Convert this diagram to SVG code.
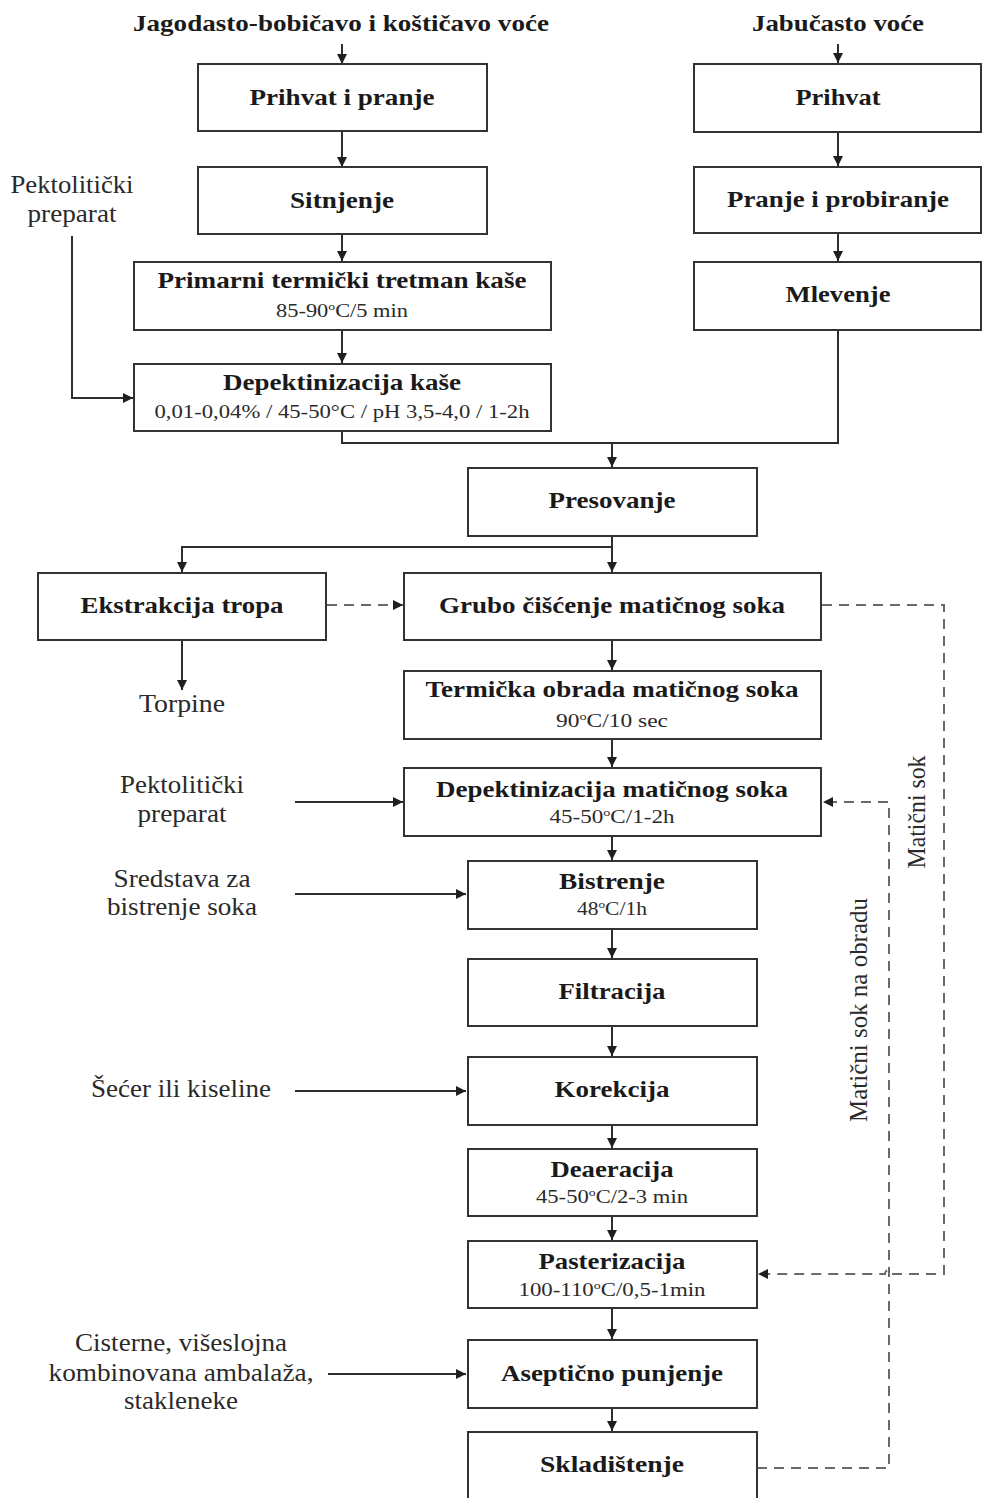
<svg xmlns="http://www.w3.org/2000/svg" width="982" height="1498" viewBox="0 0 982 1498">
  <style>
    .box { fill: #ffffff; stroke: #333333; stroke-width: 2; }
    .t { font-family: "Liberation Serif", "Times New Roman", serif; font-weight: bold; font-size: 24px; fill: #1a1a1a; text-anchor: middle; }
    .s { font-family: "Liberation Serif", "Times New Roman", serif; font-size: 18px; fill: #2a2a2a; text-anchor: middle; }
    .lbl { font-family: "Liberation Serif", "Times New Roman", serif; font-size: 25px; fill: #2a2a2a; text-anchor: middle; }
    .ln { fill: none; stroke: #2e2e2e; stroke-width: 2; }
    .dash { fill: none; stroke: #6a6a6a; stroke-width: 2; stroke-dasharray: 10 7; }
  </style>
  <defs>
    <marker id="arr" viewBox="0 0 10 10" refX="10" refY="5" markerWidth="11" markerHeight="10" markerUnits="userSpaceOnUse" orient="auto">
      <path d="M0,0 L10,5 L0,10 z" fill="#1f1f1f"/>
    </marker>
  </defs>
  <rect width="982" height="1498" fill="#ffffff"/>

  <!-- source headings -->
  <text class="t" x="341" y="31" textLength="416" lengthAdjust="spacingAndGlyphs">Jagodasto-bobičavo i koštičavo voće</text>
  <text class="t" x="838" y="31" textLength="172" lengthAdjust="spacingAndGlyphs">Jabučasto voće</text>

  <!-- connectors -->
  <g id="connectors">
    <path class="ln" d="M342,44 V64" marker-end="url(#arr)"/>
    <path class="ln" d="M342,131 V167" marker-end="url(#arr)"/>
    <path class="ln" d="M342,234 V261" marker-end="url(#arr)"/>
    <path class="ln" d="M342,330 V363" marker-end="url(#arr)"/>
    <path class="ln" d="M72,236 V398 H133" marker-end="url(#arr)"/>
    <path class="ln" d="M838,44 V63" marker-end="url(#arr)"/>
    <path class="ln" d="M838,132 V166" marker-end="url(#arr)"/>
    <path class="ln" d="M838,233 V261" marker-end="url(#arr)"/>
    <path class="ln" d="M342,431 V443 H838 V330"/>
    <path class="ln" d="M612,443 V467" marker-end="url(#arr)"/>
    <path class="ln" d="M612,536 V572" marker-end="url(#arr)"/>
    <path class="ln" d="M612,547 H182 V572" marker-end="url(#arr)"/>
    <path class="ln" d="M182,640 V690" marker-end="url(#arr)"/>
    <path class="ln" d="M612,640 V670" marker-end="url(#arr)"/>
    <path class="ln" d="M612,739 V767" marker-end="url(#arr)"/>
    <path class="ln" d="M295,802 H403" marker-end="url(#arr)"/>
    <path class="ln" d="M612,836 V860" marker-end="url(#arr)"/>
    <path class="ln" d="M295,894 H466" marker-end="url(#arr)"/>
    <path class="ln" d="M612,929 V958" marker-end="url(#arr)"/>
    <path class="ln" d="M612,1026 V1056" marker-end="url(#arr)"/>
    <path class="ln" d="M295,1091 H466" marker-end="url(#arr)"/>
    <path class="ln" d="M612,1125 V1148" marker-end="url(#arr)"/>
    <path class="ln" d="M612,1216 V1240" marker-end="url(#arr)"/>
    <path class="ln" d="M612,1308 V1339" marker-end="url(#arr)"/>
    <path class="ln" d="M328,1374 H466" marker-end="url(#arr)"/>
    <path class="ln" d="M612,1408 V1431" marker-end="url(#arr)"/>
    <!-- dashed recirculation lines -->
    <path class="dash" d="M327,605 H403" marker-end="url(#arr)"/>
    <path class="dash" d="M822,605 H944 V1274 H893 A4,4 0 0 0 885,1274 H758" marker-end="url(#arr)"/>
    <path class="dash" d="M757,1468 H889 V802 H823" marker-end="url(#arr)"/>
  </g>

  <!-- left branch -->
  <g id="prihvat-pranje">
    <rect class="box" x="198" y="64" width="289" height="67"/>
    <text class="t" x="342" y="105" textLength="185" lengthAdjust="spacingAndGlyphs">Prihvat i pranje</text>
  </g>
  <g id="sitnjenje">
    <rect class="box" x="198" y="167" width="289" height="67"/>
    <text class="t" x="342" y="208" textLength="104" lengthAdjust="spacingAndGlyphs">Sitnjenje</text>
  </g>
  <g id="primarni-tretman">
    <rect class="box" x="134" y="262" width="417" height="68"/>
    <text class="t" x="342" y="288" textLength="369" lengthAdjust="spacingAndGlyphs">Primarni termički tretman kaše</text>
    <text class="s" x="342" y="317" textLength="132" lengthAdjust="spacingAndGlyphs">85-90<tspan font-size="11" dy="-7">o</tspan><tspan dy="7">C/5 min</tspan></text>
  </g>
  <g id="depektinizacija-kase">
    <rect class="box" x="134" y="364" width="417" height="67"/>
    <text class="t" x="342" y="390" textLength="238" lengthAdjust="spacingAndGlyphs">Depektinizacija kaše</text>
    <text class="s" x="342" y="418" textLength="375" lengthAdjust="spacingAndGlyphs">0,01-0,04% / 45-50°C / pH 3,5-4,0 / 1-2h</text>
  </g>
  <g id="pektoliticki-1">
    <text class="lbl" x="72" y="193" textLength="123" lengthAdjust="spacingAndGlyphs">Pektolitički</text>
    <text class="lbl" x="72" y="222" textLength="89" lengthAdjust="spacingAndGlyphs">preparat</text>
  </g>

  <!-- right branch -->
  <g id="prihvat">
    <rect class="box" x="694" y="64" width="287" height="68"/>
    <text class="t" x="838" y="105" textLength="85" lengthAdjust="spacingAndGlyphs">Prihvat</text>
  </g>
  <g id="pranje-probiranje">
    <rect class="box" x="694" y="167" width="287" height="66"/>
    <text class="t" x="838" y="207" textLength="222" lengthAdjust="spacingAndGlyphs">Pranje i probiranje</text>
  </g>
  <g id="mlevenje">
    <rect class="box" x="694" y="262" width="287" height="68"/>
    <text class="t" x="838" y="302" textLength="105" lengthAdjust="spacingAndGlyphs">Mlevenje</text>
  </g>

  <!-- common line -->
  <g id="presovanje">
    <rect class="box" x="468" y="468" width="289" height="68"/>
    <text class="t" x="612" y="508" textLength="127" lengthAdjust="spacingAndGlyphs">Presovanje</text>
  </g>
  <g id="ekstrakcija-tropa">
    <rect class="box" x="38" y="573" width="288" height="67"/>
    <text class="t" x="182" y="613" textLength="203" lengthAdjust="spacingAndGlyphs">Ekstrakcija tropa</text>
  </g>
  <g id="torpine">
    <text class="lbl" x="182" y="712" textLength="86" lengthAdjust="spacingAndGlyphs">Torpine</text>
  </g>
  <g id="grubo-ciscenje">
    <rect class="box" x="404" y="573" width="417" height="67"/>
    <text class="t" x="612" y="613" textLength="346" lengthAdjust="spacingAndGlyphs">Grubo čišćenje matičnog soka</text>
  </g>
  <g id="termicka-obrada">
    <rect class="box" x="404" y="671" width="417" height="68"/>
    <text class="t" x="612" y="697" textLength="373" lengthAdjust="spacingAndGlyphs">Termička obrada matičnog soka</text>
    <text class="s" x="612" y="727" textLength="112" lengthAdjust="spacingAndGlyphs">90<tspan font-size="11" dy="-7">o</tspan><tspan dy="7">C/10 sec</tspan></text>
  </g>
  <g id="depektinizacija-soka">
    <rect class="box" x="404" y="768" width="417" height="68"/>
    <text class="t" x="612" y="797" textLength="352" lengthAdjust="spacingAndGlyphs">Depektinizacija matičnog soka</text>
    <text class="s" x="612" y="823" textLength="125" lengthAdjust="spacingAndGlyphs">45-50<tspan font-size="11" dy="-7">o</tspan><tspan dy="7">C/1-2h</tspan></text>
  </g>
  <g id="pektoliticki-2">
    <text class="lbl" x="182" y="793" textLength="124" lengthAdjust="spacingAndGlyphs">Pektolitički</text>
    <text class="lbl" x="182" y="822" textLength="89" lengthAdjust="spacingAndGlyphs">preparat</text>
  </g>
  <g id="bistrenje">
    <rect class="box" x="468" y="861" width="289" height="68"/>
    <text class="t" x="612" y="889" textLength="106" lengthAdjust="spacingAndGlyphs">Bistrenje</text>
    <text class="s" x="612" y="915" textLength="70" lengthAdjust="spacingAndGlyphs">48<tspan font-size="11" dy="-7">o</tspan><tspan dy="7">C/1h</tspan></text>
  </g>
  <g id="sredstva">
    <text class="lbl" x="182" y="887" textLength="137" lengthAdjust="spacingAndGlyphs">Sredstava za</text>
    <text class="lbl" x="182" y="915" textLength="150" lengthAdjust="spacingAndGlyphs">bistrenje soka</text>
  </g>
  <g id="filtracija">
    <rect class="box" x="468" y="959" width="289" height="67"/>
    <text class="t" x="612" y="999" textLength="107" lengthAdjust="spacingAndGlyphs">Filtracija</text>
  </g>
  <g id="korekcija">
    <rect class="box" x="468" y="1057" width="289" height="68"/>
    <text class="t" x="612" y="1097" textLength="115" lengthAdjust="spacingAndGlyphs">Korekcija</text>
  </g>
  <g id="secer">
    <text class="lbl" x="181" y="1097" textLength="180" lengthAdjust="spacingAndGlyphs">Šećer ili kiseline</text>
  </g>
  <g id="deaeracija">
    <rect class="box" x="468" y="1149" width="289" height="67"/>
    <text class="t" x="612" y="1177" textLength="123" lengthAdjust="spacingAndGlyphs">Deaeracija</text>
    <text class="s" x="612" y="1203" textLength="152" lengthAdjust="spacingAndGlyphs">45-50<tspan font-size="11" dy="-7">o</tspan><tspan dy="7">C/2-3 min</tspan></text>
  </g>
  <g id="pasterizacija">
    <rect class="box" x="468" y="1241" width="289" height="67"/>
    <text class="t" x="612" y="1269" textLength="147" lengthAdjust="spacingAndGlyphs">Pasterizacija</text>
    <text class="s" x="612" y="1296" textLength="187" lengthAdjust="spacingAndGlyphs">100-110<tspan font-size="11" dy="-7">o</tspan><tspan dy="7">C/0,5-1min</tspan></text>
  </g>
  <g id="asepticno-punjenje">
    <rect class="box" x="468" y="1340" width="289" height="68"/>
    <text class="t" x="612" y="1381" textLength="222" lengthAdjust="spacingAndGlyphs">Aseptično punjenje</text>
  </g>
  <g id="ambalaza">
    <text class="lbl" x="181" y="1351" textLength="212" lengthAdjust="spacingAndGlyphs">Cisterne, višeslojna</text>
    <text class="lbl" x="181" y="1381" textLength="265" lengthAdjust="spacingAndGlyphs">kombinovana ambalaža,</text>
    <text class="lbl" x="181" y="1409" textLength="114" lengthAdjust="spacingAndGlyphs">stakleneke</text>
  </g>
  <g id="skladistenje">
    <rect class="box" x="468" y="1432" width="289" height="80"/>
    <text class="t" x="612" y="1472" textLength="144" lengthAdjust="spacingAndGlyphs">Skladištenje</text>
  </g>

  <!-- labels on the return lines -->
  <g id="maticni-sok">
    <text class="lbl" transform="translate(925,812) rotate(-90)" x="0" y="0" textLength="113" lengthAdjust="spacingAndGlyphs">Matični sok</text>
  </g>
  <g id="maticni-sok-obrada">
    <text class="lbl" transform="translate(867,1010) rotate(-90)" x="0" y="0" textLength="224" lengthAdjust="spacingAndGlyphs">Matični sok na obradu</text>
  </g>
</svg>
